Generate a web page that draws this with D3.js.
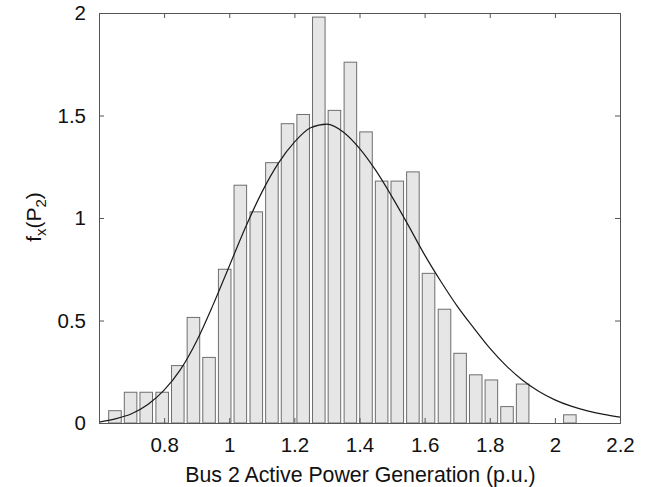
<!DOCTYPE html>
<html>
<head>
<meta charset="utf-8">
<script src="https://cdn.jsdelivr.net/npm/d3@7"></script>
<style>
  body { margin: 0; background: #fff; }
  text { font-family: "Liberation Sans", Arial, Helvetica, sans-serif; fill: #111; }
</style>
</head>
<body>
<div id="chart"></div>
<script>
// histogram bin centres (p.u.) and normalised heights
const binCenters = [0.649, 0.697, 0.745, 0.794, 0.842, 0.890, 0.938, 0.986, 1.034, 1.083,
                    1.131, 1.179, 1.227, 1.275, 1.323, 1.372, 1.420, 1.468, 1.516, 1.564,
                    1.612, 1.661, 1.709, 1.757, 1.805, 1.853, 1.901, 1.950, 1.998, 2.046];
const binHeights = [0.06, 0.15, 0.15, 0.15, 0.28, 0.515, 0.32, 0.75, 1.16, 1.03,
                    1.27, 1.46, 1.505, 1.98, 1.525, 1.76, 1.42, 1.18, 1.18, 1.225,
                    0.73, 0.555, 0.34, 0.235, 0.21, 0.08, 0.19, 0, 0, 0.04];

// fitted density curve
const curveX = [0.60, 0.65, 0.70, 0.75, 0.80, 0.85, 0.90, 0.95, 1.00, 1.05,
                1.10, 1.15, 1.20, 1.25, 1.30, 1.35, 1.40, 1.45, 1.50, 1.55,
                1.60, 1.65, 1.70, 1.75, 1.80, 1.85, 1.90, 1.95, 2.00, 2.05,
                2.10, 2.15, 2.20];
const curveY = [0.004, 0.02, 0.045, 0.09, 0.16, 0.26, 0.40, 0.575, 0.765, 0.955,
                1.125, 1.265, 1.37, 1.44, 1.458, 1.42, 1.34, 1.232, 1.103, 0.964,
                0.82, 0.69, 0.57, 0.465, 0.365, 0.28, 0.21, 0.155, 0.113, 0.082,
                0.059, 0.042, 0.029];

const xTicks = [0.8, 1, 1.2, 1.4, 1.6, 1.8, 2, 2.2];
const yTicks = [0, 0.5, 1, 1.5, 2];
const binStep = 0.0482;

const width = 647, height = 487;
const margin = {top: 13, right: 27, bottom: 64, left: 99};
const w = width - margin.left - margin.right;
const h = height - margin.top - margin.bottom;

const svg = d3.select("#chart").append("svg")
    .attr("width", width)
    .attr("height", height);

const g = svg.append("g")
    .attr("transform", `translate(${margin.left},${margin.top})`);

const x = d3.scaleLinear().domain([0.6, 2.2]).range([0, w]);
const y = d3.scaleLinear().domain([0, 2]).range([h, 0]);

// bars (MATLAB style, 80% of bin width)
const barW = x(0.6 + binStep * 0.8) - x(0.6);
g.selectAll("rect.bar")
    .data(binCenters.map((c, i) => ({c: c, v: binHeights[i]})).filter(d => d.v > 0))
    .enter().append("rect")
    .attr("class", "bar")
    .attr("x", d => x(d.c) - barW / 2)
    .attr("y", d => y(d.v))
    .attr("width", barW)
    .attr("height", d => y(0) - y(d.v))
    .style("fill", "#e6e6e6")
    .style("stroke", "#6e6e6e")
    .style("stroke-width", 1);

// density curve
const line = d3.line()
    .x(d => x(d[0]))
    .y(d => y(d[1]))
    .curve(d3.curveMonotoneX);
g.append("path")
    .datum(curveX.map((v, i) => [v, curveY[i]]))
    .attr("d", line)
    .style("fill", "none")
    .style("stroke", "#1a1a1a")
    .style("stroke-width", 1.2);

// axes: ticks inside, box all round
const tickLen = 5;
const axisColor = "#555";
const xb = g.append("g").attr("transform", `translate(0,${h})`)
    .call(d3.axisBottom(x).tickValues(xTicks).tickSize(-tickLen).tickPadding(14)
        .tickFormat(d3.format("")));
const xt = g.append("g")
    .call(d3.axisTop(x).tickValues(xTicks).tickSize(-tickLen).tickFormat(""));
const yl = g.append("g")
    .call(d3.axisLeft(y).tickValues(yTicks).tickSize(-tickLen).tickPadding(13)
        .tickFormat(d3.format("")));
const yr = g.append("g").attr("transform", `translate(${w},0)`)
    .call(d3.axisRight(y).tickValues(yTicks).tickSize(-tickLen).tickFormat(""));

[xb, xt, yl, yr].forEach(a => {
    a.select(".domain").attr("stroke", axisColor);
    a.selectAll(".tick line").attr("stroke", axisColor);
    a.selectAll("text").style("font-size", "20.5px")
        .style("font-family", "'Liberation Sans', Arial, sans-serif").attr("fill", "#111");
});

// axis labels
svg.append("text")
    .attr("x", margin.left + w / 2 + 1)
    .attr("y", 482)
    .attr("text-anchor", "middle")
    .style("font-size", "21.3px")
    .text("Bus 2 Active Power Generation (p.u.)");

const yLab = svg.append("text")
    .attr("transform", "translate(41,217) rotate(-90)")
    .attr("text-anchor", "middle")
    .style("font-size", "21px");
yLab.append("tspan").text("f");
yLab.append("tspan").attr("dy", 5).style("font-size", "15px").text("x");
yLab.append("tspan").attr("dy", -5).text("(P");
yLab.append("tspan").attr("dy", 5).style("font-size", "15px").text("2");
yLab.append("tspan").attr("dy", -5).text(")");
</script>
</body>
</html>
